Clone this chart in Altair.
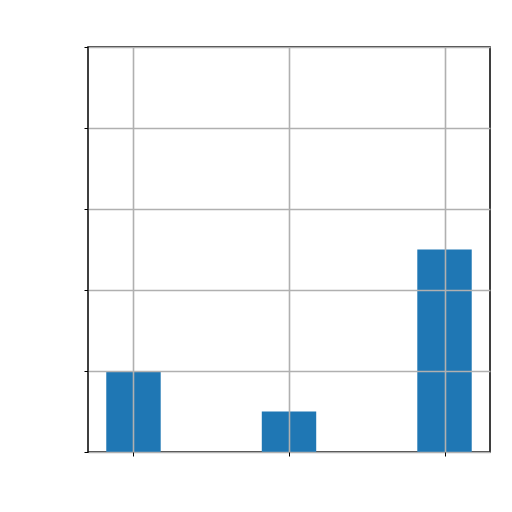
import altair as alt
import pandas as pd

positions = [0, 1, 2]
values = [1.0, 0.5, 2.5]
bar_width = 0.35

df = pd.DataFrame({"pos": positions, "value": values})

x_scale = alt.Scale(domain=[-0.2925, 2.2925], nice=False, zero=False)
y_scale = alt.Scale(domain=[0, 5], nice=False)

chart = alt.Chart(df).transform_calculate(
    x0=f"datum.pos - {bar_width/2}",
    x1=f"datum.pos + {bar_width/2}",
    base="0",
).mark_bar(color="#1f77b4").encode(
    x=alt.X("x0:Q", scale=x_scale,
            axis=alt.Axis(values=positions, labels=False, title=None, grid=True,
                          gridColor="#b0b0b0", gridWidth=1.6, tickColor="black",
                          tickSize=4, domain=False, zindex=1)),
    x2="x1:Q",
    y=alt.Y("value:Q", scale=y_scale,
            axis=alt.Axis(values=[0, 1, 2, 3, 4, 5], labels=False, title=None, grid=True,
                          gridColor="#b0b0b0", gridWidth=1.6, tickColor="black",
                          tickSize=4, domain=False, zindex=1)),
    y2="base:Q",
).properties(
    width=402, height=405,
    autosize=alt.AutoSizeParams(type="none"),
    padding={"left": 80, "top": 39, "right": 10, "bottom": 10},
).configure_view(stroke="black", strokeWidth=1.5)

chart.save("out.html", embed_options={"renderer": "svg", "actions": False})
